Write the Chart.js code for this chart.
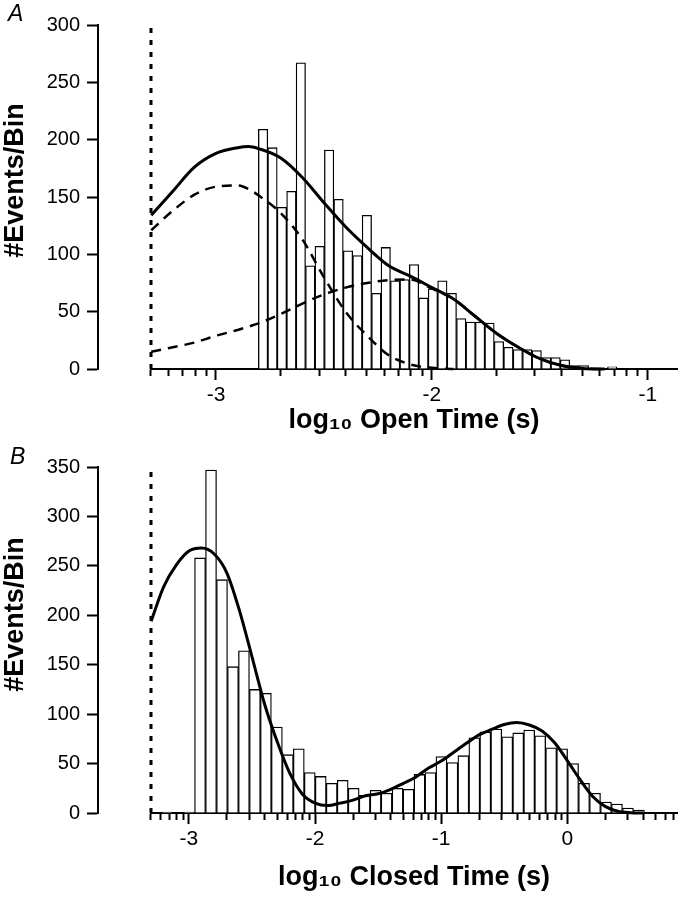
<!DOCTYPE html>
<html>
<head>
<meta charset="utf-8">
<title>Open and closed time histograms</title>
<script src="https://cdn.jsdelivr.net/npm/chart.js@4.4.0/dist/chart.umd.min.js"></script>
<style>
  html, body { margin: 0; padding: 0; background: #fff; }
  #page { position: relative; width: 680px; height: 899px; }
  .panel { position: absolute; left: 0; width: 680px; }
  #panelA { top: 0; height: 445px; }
  #panelB { top: 445px; height: 454px; }
  .letter { position: absolute; font: italic 23px "Liberation Sans", Arial, Helvetica, sans-serif; line-height: 1; color: #000; }
  .ytitle { position: absolute; width: 240px; height: 27px; text-align: center; white-space: nowrap;
            font: bold 27px "Liberation Sans", Arial, Helvetica, sans-serif; line-height: 27px; color: #000;
            transform: rotate(-90deg); }
</style>
</head>
<body>
<div id="page">
  <div class="panel" id="panelA"><canvas id="chartA"></canvas></div>
  <div class="panel" id="panelB"><canvas id="chartB"></canvas></div>
  <div class="letter" style="left:8px; top:2px;">A</div>
  <div class="letter" style="left:10px; top:445px;">B</div>
  <!-- centred at x=14, y=181 and y=615 -->
  <div class="ytitle" style="left:-106px; top:167px;">#Events/Bin</div>
  <div class="ytitle" style="left:-106px; top:601px;">#Events/Bin</div>
</div>
<script>
var FONT = '"Liberation Sans", Arial, Helvetica, sans-serif';

// dead time, log10(0.5 ms)
var deadTime = -3.301;

// ---- A: open times (log10 s) ----
var openFirstBin = -2.782;   // centre of first bin
var openBinWidth = 0.0437;
var openCounts = [209, 193, 141, 155, 267, 90, 107, 191, 148, 103,
                  99, 134, 66, 106, 77, 78, 91, 62, 70, 77,
                  66, 44, 41, 41, 40, 24, 19, 17, 17, 16,
                  10, 10, 8, 3, 3, 0, 0, 2];
var openFitX = [-3.30, -3.20, -3.10, -3.00, -2.90, -2.85, -2.80, -2.70, -2.60, -2.50,
                -2.40, -2.30, -2.20, -2.10, -2.00, -1.90, -1.80, -1.70, -1.60, -1.50,
                -1.40, -1.30, -1.20];
var openFitTotal = [134, 155, 176, 188, 193, 194, 192, 184, 167, 145,
                    124, 106, 90, 81, 71, 61, 46, 31, 19, 9,
                    3, 0.5, 0];
var openFitFast = [121, 138, 152, 159, 160, 157, 151, 136, 113, 80,
                   50, 29, 12, 4, 1, 0, null, null, null, null,
                   null, null, null];
var openFitSlow = [15, 19, 23, 29, 34, 37, 40, 48, 57, 65,
                   71, 75, 77.5, 78, 70, 61, 46, 31, 19, 9,
                   3, 0.5, 0];
var openXMax = -0.865;
var openYMax = 300;
var openTickLabels = ['-3', '-2', '-1'];

// ---- B: closed times (log10 s) ----
var closedFirstBin = -3.173;
var closedBinWidth = 0.087;
var closedCounts = [1, 0, 1, 258, 347, 236, 148, 164, 125, 121,
                    87, 59, 65, 41, 37, 30, 33, 25, 18, 23,
                    20, 25, 24, 39, 41, 57, 51, 58, 76, 82,
                    85, 77, 81, 84, 78, 66, 65, 50, 30, 20,
                    11, 9, 5, 3];
var closedFitX = [-3.30, -3.20, -3.10, -3.00, -2.90, -2.80, -2.70, -2.60, -2.50, -2.40,
                  -2.30, -2.20, -2.10, -2.00, -1.90, -1.80, -1.70, -1.60, -1.50, -1.40,
                  -1.30, -1.20, -1.10, -1.00, -0.90, -0.80, -0.70, -0.60, -0.50, -0.40,
                  -0.30, -0.20, -0.10, 0.00, 0.10, 0.20, 0.30, 0.40, 0.50, 0.60];
var closedFitTotal = [194, 229, 251, 265, 268, 262, 243, 205, 158, 110,
                      72, 40, 19, 10, 7.5, 10, 13, 17.5, 19.5, 24,
                      30, 36.5, 45.5, 52.5, 61.5, 70.5, 79, 84.5, 89.5, 91.5,
                      89, 83, 71, 53, 34, 17, 6.7, 1.8, 0.3, 0];
var closedXMax = 0.87;
var closedYMax = 350;
var closedTickLabels = ['-3', '-2', '-1', '0'];

function binPoints(first, width, counts) {
  var pts = [];
  for (var i = 0; i < counts.length; i++) {
    pts.push({ x: first + i * width, y: counts[i] });
  }
  return pts;
}

function curvePoints(xs, ys) {
  var pts = [];
  for (var i = 0; i < xs.length; i++) {
    pts.push({ x: xs[i], y: ys[i] });
  }
  return pts;
}

// tick marks at 1..9 x 10^d, only the integer ones get labels
function logTicks(min, max) {
  var out = [];
  for (var d = Math.floor(min) - 1; d <= Math.ceil(max); d++) {
    for (var k = 1; k <= 9; k++) {
      var v = d + Math.log10(k);
      if (v >= min - 0.001 && v <= max + 0.001) out.push({ value: v });
    }
  }
  return out;
}

function isDecade(v) {
  return Math.abs(v - Math.round(v)) < 1e-6;
}

function drawPanel(canvasId, p) {
  var datasets = [{
    type: 'bar',
    data: binPoints(p.firstBin, p.binWidth, p.counts),
    backgroundColor: '#ffffff',
    borderColor: '#000000',
    borderWidth: 1.3,
    barThickness: 'flex',   // width from neighbouring bins, not from tick spacing
    barPercentage: 1,
    categoryPercentage: 1,
    order: 5
  }];

  p.fits.forEach(function(f) {
    datasets.push({
      type: 'line',
      data: curvePoints(p.fitX, f.values),
      borderColor: '#000000',
      borderWidth: f.dashed ? 2.5 : 3,
      borderDash: f.dashed ? [10, 7] : [],
      pointRadius: 0,
      cubicInterpolationMode: 'monotone',
      fill: false,
      clip: false,
      order: f.dashed ? 2 : 1
    });
  });

  // dotted line at the dead time
  datasets.push({
    type: 'line',
    data: [{ x: deadTime, y: 0 }, { x: deadTime, y: p.yMax }],
    borderColor: '#000000',
    borderWidth: 3,
    borderDash: [5, 7],
    pointRadius: 0,
    fill: false,
    clip: false,
    order: 0
  });

  return new Chart(document.getElementById(canvasId), {
    type: 'bar',
    data: { datasets: datasets },
    options: {
      responsive: true,
      maintainAspectRatio: false,
      animation: false,
      layout: { padding: { top: p.padTop, right: 3, bottom: 0, left: 0 } },
      plugins: {
        legend: { display: false },
        tooltip: { enabled: false }
      },
      scales: {
        x: {
          type: 'linear',
          position: 'bottom',
          min: deadTime,
          max: p.xMax,
          offset: false,
          afterBuildTicks: function(scale) {
            scale.ticks = logTicks(scale.min, scale.max);
          },
          afterFit: function(scale) { scale.height = p.xAxisHeight; },
          ticks: {
            autoSkip: false,
            maxRotation: 0,
            minRotation: 0,
            padding: 3,
            color: '#000',
            font: { family: FONT, size: 21 },
            callback: function(value) {
              if (!isDecade(value)) return '';
              var lbl = String(Math.round(value));
              return p.tickLabels.indexOf(lbl) >= 0 ? lbl : '';
            }
          },
          grid: {
            offset: false,
            drawOnChartArea: false,
            tickLength: 11,
            tickWidth: 2,
            tickColor: '#000',
            tickBorderDash: function(ctx) {
              return (ctx.tick && isDecade(ctx.tick.value)) ? [] : [6, 20];
            }
          },
          border: { display: true, width: 2, color: '#000' },
          title: {
            display: true,
            text: p.xTitle,
            color: '#000',
            font: { family: FONT, size: 27, weight: 'bold' },
            padding: { top: 0, bottom: p.titlePadBottom }
          }
        },
        y: {
          type: 'linear',
          position: 'left',
          weight: 10,
          min: 0,
          max: p.yMax,
          afterFit: function(scale) { scale.width = 98; },
          ticks: {
            stepSize: 50,
            padding: 7,
            color: '#000',
            font: { family: FONT, size: 20 }
          },
          grid: {
            drawOnChartArea: false,
            tickLength: 11,
            tickWidth: 2,
            tickColor: '#000'
          },
          border: { display: true, width: 2, color: '#000' }
        },
        // empty gap between the y axis and the start of the x axis
        ySpacer: {
          axis: 'y',
          type: 'linear',
          position: 'left',
          weight: 0,
          afterFit: function(scale) { scale.width = 53; },
          ticks: { display: false },
          grid: { display: false },
          border: { display: false }
        }
      }
    }
  });
}

drawPanel('chartA', {
  firstBin: openFirstBin,
  binWidth: openBinWidth,
  counts: openCounts,
  fitX: openFitX,
  fits: [
    { values: openFitFast, dashed: true },
    { values: openFitSlow, dashed: true },
    { values: openFitTotal, dashed: false }
  ],
  xMax: openXMax,
  yMax: openYMax,
  tickLabels: openTickLabels,
  xTitle: 'log\u2081\u2080 Open Time (s)',
  padTop: 25,
  xAxisHeight: 76,
  titlePadBottom: 8
});

drawPanel('chartB', {
  firstBin: closedFirstBin,
  binWidth: closedBinWidth,
  counts: closedCounts,
  fitX: closedFitX,
  fits: [
    { values: closedFitTotal, dashed: false }
  ],
  xMax: closedXMax,
  yMax: closedYMax,
  tickLabels: closedTickLabels,
  xTitle: 'log\u2081\u2080 Closed Time (s)',
  padTop: 22,
  xAxisHeight: 86,
  titlePadBottom: 5
});
</script>
</body>
</html>
